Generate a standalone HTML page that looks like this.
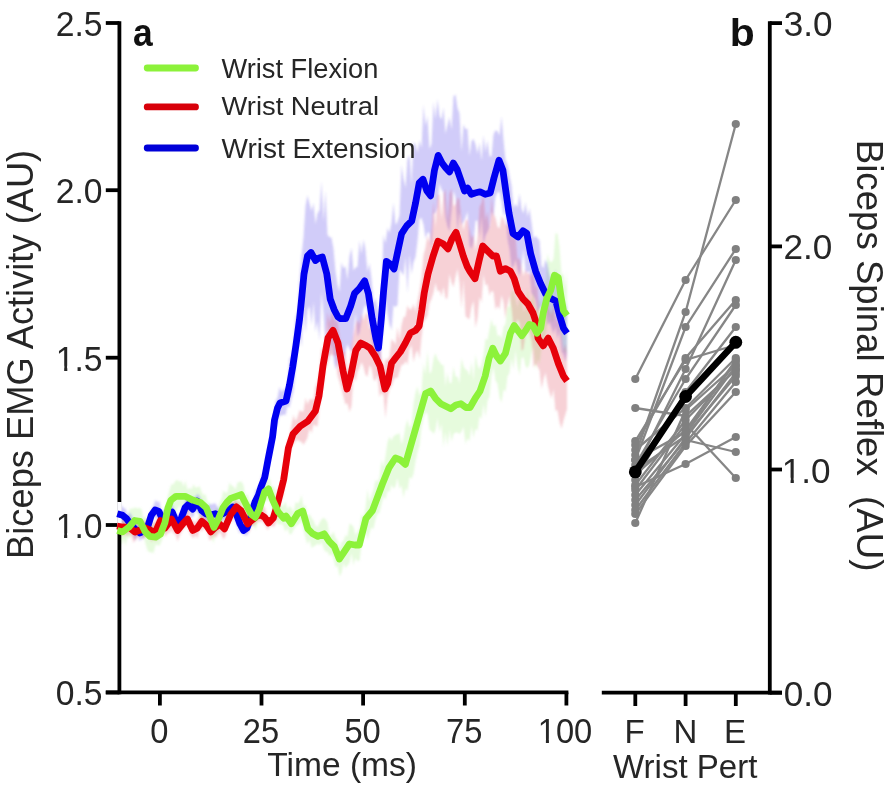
<!DOCTYPE html>
<html><head><meta charset="utf-8"><style>
html,body{margin:0;padding:0;background:#fff;width:886px;height:793px;overflow:hidden}
svg{display:block;filter:blur(0.45px)}
.t{opacity:0.995}
</style></head><body>
<svg width="886" height="793" viewBox="0 0 886 793">
<rect width="886" height="793" fill="#ffffff"/>
<defs><filter id="bl" x="-5%" y="-5%" width="110%" height="110%"><feGaussianBlur stdDeviation="0.9"/></filter></defs>
<g filter="url(#bl)">
<path d="M119.5,521.9 L121.5,521.0 L123.5,517.9 L125.5,523.0 L127.5,518.8 L129.5,509.0 L131.5,508.5 L133.5,508.4 L135.5,507.2 L137.5,508.7 L139.5,507.4 L141.5,509.5 L143.5,518.4 L145.5,516.2 L147.5,519.7 L149.5,521.8 L151.5,525.8 L153.5,525.5 L155.5,521.1 L157.5,528.0 L159.5,517.8 L161.5,518.0 L163.5,514.3 L165.5,509.5 L167.5,497.2 L169.5,489.9 L171.5,483.9 L173.5,484.4 L175.5,480.8 L177.5,479.9 L179.5,482.0 L181.5,480.7 L183.5,486.6 L185.5,480.7 L187.5,489.9 L189.5,487.5 L191.5,489.7 L193.5,484.3 L195.5,487.7 L197.5,487.2 L199.5,486.0 L201.5,491.4 L203.5,495.3 L205.5,493.9 L207.5,502.0 L209.5,502.5 L211.5,513.8 L213.5,516.3 L215.5,508.1 L217.5,509.1 L219.5,502.7 L221.5,498.7 L223.5,490.3 L225.5,493.1 L227.5,492.4 L229.5,482.4 L231.5,485.6 L233.5,486.3 L235.5,489.8 L237.5,482.5 L239.5,481.8 L241.5,481.5 L243.5,485.2 L245.5,496.6 L247.5,493.4 L249.5,501.6 L251.5,501.5 L253.5,505.4 L255.5,506.3 L257.5,503.1 L259.5,493.5 L261.5,489.3 L263.5,485.7 L265.5,475.9 L267.5,481.0 L269.5,477.4 L271.5,486.7 L273.5,486.2 L275.5,490.3 L277.5,500.3 L279.5,497.2 L281.5,506.6 L283.5,505.6 L285.5,501.2 L287.5,509.6 L289.5,505.7 L291.5,508.2 L293.5,512.3 L295.5,502.0 L297.5,503.6 L299.5,501.5 L301.5,495.1 L303.5,507.1 L305.5,504.7 L307.5,516.5 L309.5,513.9 L311.5,517.8 L313.5,520.4 L315.5,525.5 L317.5,527.1 L319.5,522.8 L321.5,519.6 L323.5,517.7 L325.5,519.2 L327.5,522.5 L329.5,535.0 L331.5,535.1 L333.5,531.3 L335.5,537.7 L337.5,540.1 L339.5,548.3 L341.5,542.3 L343.5,540.7 L345.5,535.1 L347.5,536.6 L349.5,523.4 L351.5,524.6 L353.5,527.1 L355.5,535.3 L357.5,531.7 L359.5,528.2 L361.5,514.1 L363.5,517.3 L365.5,508.0 L367.5,489.5 L369.5,502.0 L371.5,495.0 L373.5,490.1 L375.5,479.9 L377.5,481.7 L379.5,477.3 L381.5,459.8 L383.5,467.2 L385.5,455.9 L387.5,441.9 L389.5,436.6 L391.5,441.1 L393.5,436.3 L395.5,434.7 L397.5,434.2 L399.5,432.8 L401.5,444.8 L403.5,437.8 L405.5,426.2 L407.5,419.6 L409.5,427.9 L411.5,424.2 L413.5,403.2 L415.5,392.5 L417.5,386.5 L419.5,395.8 L421.5,391.2 L423.5,363.2 L425.5,374.6 L427.5,351.1 L429.5,373.7 L431.5,371.5 L433.5,358.5 L435.5,353.0 L437.5,359.2 L439.5,361.7 L441.5,364.8 L443.5,364.9 L445.5,386.3 L447.5,372.5 L449.5,383.1 L451.5,383.0 L453.5,366.8 L455.5,376.7 L457.5,376.5 L459.5,383.8 L461.5,358.1 L463.5,366.2 L465.5,369.5 L467.5,370.4 L469.5,376.0 L471.5,361.6 L473.5,381.1 L475.5,354.5 L477.5,365.1 L479.5,369.4 L481.5,364.0 L483.5,355.1 L485.5,338.3 L487.5,340.2 L489.5,328.8 L491.5,318.9 L493.5,327.0 L495.5,324.1 L497.5,336.0 L499.5,334.7 L501.5,338.8 L503.5,326.8 L505.5,323.9 L507.5,306.2 L509.5,307.3 L511.5,291.4 L513.5,290.7 L515.5,298.2 L517.5,307.2 L519.5,297.9 L521.5,295.8 L523.5,311.8 L525.5,309.1 L527.5,287.7 L529.5,301.1 L531.5,300.2 L533.5,290.4 L535.5,311.5 L537.5,308.0 L539.5,297.5 L541.5,306.5 L543.5,283.3 L545.5,281.4 L547.5,253.8 L549.5,260.8 L551.5,262.5 L553.5,259.0 L555.5,233.3 L557.5,233.4 L559.5,247.0 L561.5,273.7 L563.5,274.5 L565.5,288.3 L567.0,270.2 L567.0,352.5 L565.5,352.6 L563.5,351.1 L561.5,336.1 L559.5,324.9 L557.5,304.9 L555.5,295.7 L553.5,321.0 L551.5,322.6 L549.5,312.9 L547.5,324.4 L545.5,336.6 L543.5,341.7 L541.5,348.9 L539.5,364.4 L537.5,358.5 L535.5,369.5 L533.5,345.4 L531.5,353.0 L529.5,364.3 L527.5,368.2 L525.5,366.2 L523.5,356.9 L521.5,358.3 L519.5,375.1 L517.5,365.9 L515.5,350.0 L513.5,369.4 L511.5,358.3 L509.5,372.8 L507.5,376.5 L505.5,392.0 L503.5,388.9 L501.5,402.5 L499.5,397.3 L497.5,383.5 L495.5,380.7 L493.5,366.9 L491.5,375.5 L489.5,396.6 L487.5,400.9 L485.5,416.9 L483.5,403.7 L481.5,419.1 L479.5,415.7 L477.5,430.9 L475.5,428.4 L473.5,438.0 L471.5,425.4 L469.5,441.4 L467.5,438.0 L465.5,444.0 L463.5,426.5 L461.5,431.8 L459.5,434.1 L457.5,432.4 L455.5,432.5 L453.5,433.9 L451.5,441.4 L449.5,429.5 L447.5,446.0 L445.5,431.4 L443.5,446.9 L441.5,423.5 L439.5,432.8 L437.5,417.9 L435.5,430.2 L433.5,433.9 L431.5,430.9 L429.5,429.9 L427.5,413.4 L425.5,412.5 L423.5,417.9 L421.5,427.4 L419.5,445.7 L417.5,452.1 L415.5,461.6 L413.5,474.0 L411.5,478.9 L409.5,476.8 L407.5,491.4 L405.5,487.7 L403.5,497.9 L401.5,485.0 L399.5,489.1 L397.5,477.8 L395.5,486.4 L393.5,488.8 L391.5,484.4 L389.5,492.0 L387.5,491.0 L385.5,499.8 L383.5,496.2 L381.5,504.6 L379.5,512.7 L377.5,513.7 L375.5,519.3 L373.5,529.2 L371.5,527.2 L369.5,532.5 L367.5,540.3 L365.5,531.0 L363.5,539.7 L361.5,545.5 L359.5,560.4 L357.5,561.6 L355.5,557.6 L353.5,565.4 L351.5,552.9 L349.5,563.1 L347.5,565.3 L345.5,568.3 L343.5,563.0 L341.5,573.0 L339.5,576.5 L337.5,565.8 L335.5,567.4 L333.5,558.5 L331.5,553.7 L329.5,556.3 L327.5,551.6 L325.5,552.1 L323.5,548.2 L321.5,542.0 L319.5,545.4 L317.5,543.5 L315.5,545.5 L313.5,546.4 L311.5,548.1 L309.5,539.5 L307.5,544.6 L305.5,538.0 L303.5,530.6 L301.5,519.9 L299.5,523.7 L297.5,525.0 L295.5,526.7 L293.5,530.1 L291.5,533.9 L289.5,534.5 L287.5,527.7 L285.5,532.1 L283.5,526.6 L281.5,523.6 L279.5,524.8 L277.5,524.1 L275.5,514.6 L273.5,513.2 L271.5,507.0 L269.5,499.2 L267.5,501.0 L265.5,500.4 L263.5,504.6 L261.5,516.6 L259.5,515.3 L257.5,523.6 L255.5,529.9 L253.5,526.0 L251.5,524.6 L249.5,522.4 L247.5,524.3 L245.5,510.7 L243.5,514.0 L241.5,505.8 L239.5,506.8 L237.5,503.2 L235.5,509.9 L233.5,510.2 L231.5,504.8 L229.5,511.8 L227.5,511.5 L225.5,518.7 L223.5,519.1 L221.5,524.7 L219.5,529.3 L217.5,532.9 L215.5,535.1 L213.5,543.3 L211.5,536.9 L209.5,524.0 L207.5,521.7 L205.5,513.9 L203.5,512.7 L201.5,520.8 L199.5,519.3 L197.5,511.7 L195.5,508.0 L193.5,507.4 L191.5,514.4 L189.5,506.7 L187.5,512.7 L185.5,513.8 L183.5,503.6 L181.5,509.1 L179.5,505.2 L177.5,509.0 L175.5,513.7 L173.5,506.6 L171.5,517.0 L169.5,520.5 L167.5,526.5 L165.5,532.8 L163.5,537.1 L161.5,541.3 L159.5,546.1 L157.5,545.0 L155.5,544.8 L153.5,553.6 L151.5,551.9 L149.5,552.6 L147.5,550.2 L145.5,543.8 L143.5,535.2 L141.5,537.3 L139.5,528.5 L137.5,535.5 L135.5,536.6 L133.5,530.1 L131.5,535.9 L129.5,538.1 L127.5,537.4 L125.5,545.4 L123.5,538.5 L121.5,544.7 L119.5,543.5Z" fill="rgb(155,240,120)" fill-opacity="0.25"/>
<path d="M119.5,509.0 L121.5,505.1 L123.5,508.1 L125.5,508.6 L127.5,514.9 L129.5,512.2 L131.5,515.1 L133.5,519.8 L135.5,523.2 L137.5,520.1 L139.5,528.2 L141.5,521.0 L143.5,525.3 L145.5,524.8 L147.5,519.8 L149.5,515.0 L151.5,509.0 L153.5,505.7 L155.5,499.7 L157.5,501.9 L159.5,501.2 L161.5,511.7 L163.5,510.1 L165.5,508.4 L167.5,506.3 L169.5,508.1 L171.5,502.2 L173.5,507.1 L175.5,515.4 L177.5,513.0 L179.5,518.2 L181.5,508.1 L183.5,504.9 L185.5,499.3 L187.5,497.2 L189.5,498.1 L191.5,503.3 L193.5,496.3 L195.5,496.9 L197.5,493.6 L199.5,495.9 L201.5,499.5 L203.5,503.9 L205.5,505.1 L207.5,507.9 L209.5,503.6 L211.5,504.6 L213.5,503.4 L215.5,503.5 L217.5,506.4 L219.5,510.0 L221.5,505.5 L223.5,505.2 L225.5,505.1 L227.5,502.6 L229.5,500.8 L231.5,503.3 L233.5,502.9 L235.5,501.5 L237.5,507.0 L239.5,516.4 L241.5,517.5 L243.5,526.0 L245.5,519.2 L247.5,521.5 L249.5,514.5 L251.5,508.2 L253.5,500.5 L255.5,489.7 L257.5,488.6 L259.5,485.8 L261.5,475.5 L263.5,473.1 L265.5,461.2 L267.5,449.3 L269.5,445.3 L271.5,433.6 L273.5,419.9 L275.5,400.9 L277.5,398.1 L279.5,386.9 L281.5,392.3 L283.5,389.3 L285.5,389.0 L287.5,384.1 L289.5,358.3 L291.5,356.5 L293.5,342.5 L295.5,317.6 L297.5,312.8 L299.5,280.0 L301.5,255.9 L303.5,236.9 L305.5,205.9 L307.5,195.6 L309.5,203.6 L311.5,211.0 L313.5,203.1 L315.5,223.9 L317.5,212.9 L319.5,210.6 L321.5,181.5 L323.5,221.1 L325.5,190.9 L327.5,234.9 L329.5,237.0 L331.5,237.8 L333.5,248.8 L335.5,270.9 L337.5,284.4 L339.5,292.1 L341.5,262.6 L343.5,268.6 L345.5,266.0 L347.5,279.9 L349.5,256.2 L351.5,247.9 L353.5,270.5 L355.5,267.5 L357.5,266.8 L359.5,240.4 L361.5,254.3 L363.5,239.6 L365.5,249.7 L367.5,271.8 L369.5,263.3 L371.5,278.7 L373.5,304.1 L375.5,298.2 L377.5,307.6 L379.5,315.2 L381.5,295.0 L383.5,235.1 L385.5,243.3 L387.5,227.8 L389.5,233.1 L391.5,223.0 L393.5,202.7 L395.5,224.7 L397.5,222.0 L399.5,215.3 L401.5,165.2 L403.5,178.5 L405.5,187.7 L407.5,159.3 L409.5,154.9 L411.5,185.1 L413.5,142.1 L415.5,144.9 L417.5,152.7 L419.5,140.3 L421.5,148.3 L423.5,105.1 L425.5,126.1 L427.5,116.0 L429.5,149.0 L431.5,143.9 L433.5,102.0 L435.5,119.3 L437.5,99.3 L439.5,115.6 L441.5,119.7 L443.5,107.4 L445.5,133.6 L447.5,125.1 L449.5,117.1 L451.5,130.0 L453.5,96.6 L455.5,94.5 L457.5,108.0 L459.5,113.4 L461.5,151.4 L463.5,124.4 L465.5,129.2 L467.5,128.4 L469.5,155.9 L471.5,140.9 L473.5,139.0 L475.5,144.2 L477.5,153.5 L479.5,142.7 L481.5,160.6 L483.5,135.5 L485.5,151.7 L487.5,140.3 L489.5,156.5 L491.5,156.3 L493.5,134.5 L495.5,130.2 L497.5,131.2 L499.5,135.6 L501.5,116.5 L503.5,139.7 L505.5,160.0 L507.5,165.1 L509.5,175.4 L511.5,185.5 L513.5,208.2 L515.5,203.4 L517.5,207.8 L519.5,193.8 L521.5,208.8 L523.5,213.5 L525.5,202.6 L527.5,216.7 L529.5,208.4 L531.5,222.6 L533.5,238.2 L535.5,236.0 L537.5,238.1 L539.5,240.6 L541.5,265.4 L543.5,268.5 L545.5,259.2 L547.5,263.8 L549.5,274.4 L551.5,280.5 L553.5,284.7 L555.5,268.7 L557.5,288.0 L559.5,281.1 L561.5,292.5 L563.5,302.0 L565.5,309.8 L567.0,301.9 L567.0,352.9 L565.5,361.8 L563.5,354.8 L561.5,351.6 L559.5,330.7 L557.5,339.4 L555.5,327.1 L553.5,334.0 L551.5,327.9 L549.5,322.2 L547.5,325.1 L545.5,308.4 L543.5,316.3 L541.5,305.3 L539.5,308.6 L537.5,311.9 L535.5,300.0 L533.5,296.0 L531.5,293.1 L529.5,271.0 L527.5,272.4 L525.5,271.2 L523.5,249.1 L521.5,266.3 L519.5,276.8 L517.5,269.7 L515.5,259.6 L513.5,267.1 L511.5,267.6 L509.5,249.3 L507.5,239.4 L505.5,209.7 L503.5,216.7 L501.5,201.8 L499.5,192.1 L497.5,192.2 L495.5,196.8 L493.5,216.9 L491.5,210.7 L489.5,227.4 L487.5,232.0 L485.5,235.7 L483.5,244.6 L481.5,216.8 L479.5,238.0 L477.5,220.1 L475.5,221.3 L473.5,242.4 L471.5,248.9 L469.5,245.9 L467.5,211.6 L465.5,217.9 L463.5,221.9 L461.5,224.8 L459.5,212.0 L457.5,232.6 L455.5,197.5 L453.5,190.7 L451.5,211.9 L449.5,231.5 L447.5,226.6 L445.5,218.1 L443.5,192.6 L441.5,189.7 L439.5,183.6 L437.5,207.1 L435.5,212.9 L433.5,213.5 L431.5,248.9 L429.5,232.4 L427.5,232.5 L425.5,238.4 L423.5,224.6 L421.5,217.9 L419.5,218.7 L417.5,241.0 L415.5,257.3 L413.5,261.9 L411.5,274.0 L409.5,254.3 L407.5,292.9 L405.5,256.4 L403.5,275.6 L401.5,272.2 L399.5,269.4 L397.5,305.1 L395.5,306.9 L393.5,305.4 L391.5,330.1 L389.5,324.5 L387.5,314.0 L385.5,299.3 L383.5,327.8 L381.5,344.6 L379.5,383.5 L377.5,363.5 L375.5,351.1 L373.5,354.3 L371.5,333.8 L369.5,325.0 L367.5,310.4 L365.5,304.5 L363.5,309.1 L361.5,321.0 L359.5,332.6 L357.5,336.4 L355.5,312.9 L353.5,333.9 L351.5,351.9 L349.5,349.0 L347.5,344.2 L345.5,351.7 L343.5,360.1 L341.5,347.2 L339.5,345.3 L337.5,363.4 L335.5,369.6 L333.5,358.4 L331.5,343.5 L329.5,361.8 L327.5,321.1 L325.5,345.5 L323.5,313.9 L321.5,292.4 L319.5,340.6 L317.5,321.1 L315.5,331.8 L313.5,301.9 L311.5,325.1 L309.5,306.0 L307.5,309.9 L305.5,332.9 L303.5,307.4 L301.5,346.8 L299.5,335.5 L297.5,348.2 L295.5,369.8 L293.5,391.1 L291.5,398.8 L289.5,407.5 L287.5,406.2 L285.5,415.2 L283.5,414.5 L281.5,415.7 L279.5,415.6 L277.5,424.1 L275.5,427.5 L273.5,441.6 L271.5,455.0 L269.5,458.3 L267.5,475.8 L265.5,480.8 L263.5,494.0 L261.5,492.6 L259.5,500.1 L257.5,505.8 L255.5,509.4 L253.5,513.5 L251.5,522.4 L249.5,526.2 L247.5,535.6 L245.5,535.3 L243.5,535.0 L241.5,531.8 L239.5,533.1 L237.5,527.4 L235.5,522.3 L233.5,517.2 L231.5,514.0 L229.5,517.3 L227.5,519.8 L225.5,519.0 L223.5,521.1 L221.5,519.9 L219.5,525.5 L217.5,522.3 L215.5,521.9 L213.5,523.9 L211.5,524.9 L209.5,519.3 L207.5,522.6 L205.5,521.3 L203.5,523.3 L201.5,516.1 L199.5,514.1 L197.5,513.1 L195.5,509.7 L193.5,516.4 L191.5,517.5 L189.5,510.6 L187.5,512.6 L185.5,517.3 L183.5,519.5 L181.5,526.8 L179.5,532.2 L177.5,530.5 L175.5,526.2 L173.5,523.8 L171.5,523.4 L169.5,523.3 L167.5,525.9 L165.5,527.0 L163.5,529.2 L161.5,523.8 L159.5,523.4 L157.5,516.7 L155.5,518.6 L153.5,516.8 L151.5,522.7 L149.5,527.1 L147.5,535.4 L145.5,535.5 L143.5,538.7 L141.5,539.3 L139.5,541.0 L137.5,535.6 L135.5,540.5 L133.5,537.0 L131.5,529.4 L129.5,530.1 L127.5,524.5 L125.5,527.7 L123.5,523.7 L121.5,521.2 L119.5,524.9Z" fill="rgb(95,80,235)" fill-opacity="0.29"/>
<path d="M119.5,515.2 L121.5,522.0 L123.5,516.7 L125.5,518.1 L127.5,518.8 L129.5,519.3 L131.5,521.7 L133.5,521.2 L135.5,520.6 L137.5,523.4 L139.5,525.5 L141.5,521.7 L143.5,521.5 L145.5,520.0 L147.5,522.9 L149.5,523.1 L151.5,522.8 L153.5,522.8 L155.5,521.0 L157.5,517.5 L159.5,512.7 L161.5,515.3 L163.5,514.2 L165.5,517.5 L167.5,516.9 L169.5,513.9 L171.5,511.0 L173.5,515.8 L175.5,515.6 L177.5,521.7 L179.5,518.4 L181.5,519.5 L183.5,513.5 L185.5,510.0 L187.5,508.3 L189.5,512.2 L191.5,519.8 L193.5,520.9 L195.5,522.3 L197.5,519.6 L199.5,515.8 L201.5,511.4 L203.5,511.8 L205.5,514.7 L207.5,517.8 L209.5,523.9 L211.5,526.1 L213.5,518.7 L215.5,521.4 L217.5,518.5 L219.5,519.9 L221.5,520.3 L223.5,522.9 L225.5,522.0 L227.5,517.4 L229.5,507.0 L231.5,507.7 L233.5,503.6 L235.5,496.6 L237.5,503.1 L239.5,500.6 L241.5,506.3 L243.5,510.9 L245.5,509.6 L247.5,512.6 L249.5,511.7 L251.5,512.6 L253.5,509.6 L255.5,512.1 L257.5,505.2 L259.5,506.8 L261.5,507.2 L263.5,505.2 L265.5,509.7 L267.5,517.0 L269.5,516.6 L271.5,514.9 L273.5,511.3 L275.5,500.5 L277.5,488.7 L279.5,487.2 L281.5,478.5 L283.5,465.4 L285.5,450.7 L287.5,440.6 L289.5,436.5 L291.5,424.7 L293.5,414.9 L295.5,421.2 L297.5,416.9 L299.5,410.3 L301.5,411.5 L303.5,411.4 L305.5,397.9 L307.5,404.6 L309.5,399.4 L311.5,399.1 L313.5,400.1 L315.5,386.1 L317.5,382.3 L319.5,370.3 L321.5,347.8 L323.5,351.1 L325.5,338.1 L327.5,312.1 L329.5,323.0 L331.5,311.5 L333.5,314.3 L335.5,321.9 L337.5,320.1 L339.5,335.9 L341.5,344.4 L343.5,350.7 L345.5,351.9 L347.5,371.1 L349.5,365.0 L351.5,344.6 L353.5,333.8 L355.5,324.7 L357.5,319.5 L359.5,324.4 L361.5,313.7 L363.5,320.5 L365.5,312.8 L367.5,314.7 L369.5,329.3 L371.5,328.1 L373.5,332.5 L375.5,326.1 L377.5,332.3 L379.5,345.7 L381.5,357.9 L383.5,368.9 L385.5,358.9 L387.5,359.8 L389.5,356.7 L391.5,339.2 L393.5,341.2 L395.5,344.7 L397.5,327.1 L399.5,340.2 L401.5,325.3 L403.5,317.3 L405.5,316.5 L407.5,305.6 L409.5,309.4 L411.5,309.2 L413.5,303.9 L415.5,311.8 L417.5,301.5 L419.5,291.1 L421.5,277.7 L423.5,255.2 L425.5,247.7 L427.5,235.4 L429.5,242.6 L431.5,228.8 L433.5,201.3 L435.5,227.0 L437.5,194.8 L439.5,194.7 L441.5,219.2 L443.5,193.5 L445.5,188.9 L447.5,221.4 L449.5,192.9 L451.5,188.7 L453.5,206.0 L455.5,204.9 L457.5,197.6 L459.5,198.9 L461.5,219.2 L463.5,230.8 L465.5,220.5 L467.5,219.0 L469.5,229.2 L471.5,238.0 L473.5,234.7 L475.5,250.6 L477.5,238.3 L479.5,207.0 L481.5,203.1 L483.5,192.2 L485.5,220.3 L487.5,211.3 L489.5,230.0 L491.5,197.1 L493.5,214.2 L495.5,217.8 L497.5,226.8 L499.5,228.6 L501.5,216.0 L503.5,218.6 L505.5,224.4 L507.5,225.6 L509.5,220.5 L511.5,230.7 L513.5,238.5 L515.5,235.6 L517.5,259.0 L519.5,258.2 L521.5,267.5 L523.5,275.9 L525.5,269.6 L527.5,273.9 L529.5,273.0 L531.5,277.1 L533.5,267.1 L535.5,287.3 L537.5,285.6 L539.5,318.0 L541.5,318.1 L543.5,314.3 L545.5,298.0 L547.5,294.5 L549.5,308.9 L551.5,315.1 L553.5,301.9 L555.5,315.9 L557.5,321.0 L559.5,323.5 L561.5,332.5 L563.5,350.9 L565.5,343.8 L567.0,353.8 L567.0,409.3 L565.5,414.1 L563.5,420.5 L561.5,428.6 L559.5,422.0 L557.5,410.0 L555.5,411.1 L553.5,389.0 L551.5,398.4 L549.5,392.4 L547.5,383.8 L545.5,372.4 L543.5,379.6 L541.5,388.8 L539.5,370.2 L537.5,366.8 L535.5,363.9 L533.5,367.4 L531.5,341.3 L529.5,333.3 L527.5,327.1 L525.5,335.1 L523.5,348.9 L521.5,351.1 L519.5,322.9 L517.5,319.1 L515.5,326.5 L513.5,328.8 L511.5,308.8 L509.5,295.7 L507.5,305.4 L505.5,318.8 L503.5,302.3 L501.5,295.3 L499.5,309.4 L497.5,305.6 L495.5,309.7 L493.5,292.2 L491.5,290.4 L489.5,295.6 L487.5,284.1 L485.5,285.4 L483.5,274.4 L481.5,302.8 L479.5,296.8 L477.5,318.5 L475.5,327.6 L473.5,300.5 L471.5,306.8 L469.5,319.1 L467.5,318.3 L465.5,315.9 L463.5,279.4 L461.5,308.1 L459.5,282.8 L457.5,268.5 L455.5,277.3 L453.5,287.0 L451.5,282.6 L449.5,273.7 L447.5,298.4 L445.5,298.4 L443.5,286.4 L441.5,296.4 L439.5,290.3 L437.5,291.6 L435.5,282.8 L433.5,292.8 L431.5,299.0 L429.5,303.3 L427.5,315.9 L425.5,319.2 L423.5,321.4 L421.5,337.4 L419.5,358.8 L417.5,350.1 L415.5,354.1 L413.5,362.0 L411.5,345.2 L409.5,349.3 L407.5,364.7 L405.5,361.0 L403.5,364.9 L401.5,364.4 L399.5,371.4 L397.5,378.3 L395.5,377.6 L393.5,380.4 L391.5,386.2 L389.5,389.2 L387.5,397.6 L385.5,418.1 L383.5,395.4 L381.5,392.9 L379.5,396.8 L377.5,375.0 L375.5,380.9 L373.5,379.6 L371.5,368.2 L369.5,365.2 L367.5,376.4 L365.5,374.7 L363.5,367.1 L361.5,361.9 L359.5,367.6 L357.5,371.6 L355.5,381.8 L353.5,375.6 L351.5,406.0 L349.5,412.0 L347.5,403.3 L345.5,404.4 L343.5,396.9 L341.5,388.9 L339.5,381.8 L337.5,375.3 L335.5,355.5 L333.5,356.1 L331.5,354.3 L329.5,356.0 L327.5,364.5 L325.5,368.2 L323.5,385.4 L321.5,393.5 L319.5,406.7 L317.5,426.5 L315.5,425.7 L313.5,424.3 L311.5,433.2 L309.5,428.6 L307.5,437.4 L305.5,441.5 L303.5,444.8 L301.5,442.1 L299.5,441.1 L297.5,439.7 L295.5,441.2 L293.5,443.8 L291.5,447.1 L289.5,452.1 L287.5,466.8 L285.5,476.9 L283.5,495.0 L281.5,500.2 L279.5,506.2 L277.5,518.5 L275.5,524.4 L273.5,527.3 L271.5,525.8 L269.5,526.8 L267.5,529.9 L265.5,525.9 L263.5,522.8 L261.5,520.7 L259.5,522.6 L257.5,521.2 L255.5,524.8 L253.5,525.5 L251.5,526.5 L249.5,531.7 L247.5,533.3 L245.5,529.2 L243.5,523.1 L241.5,518.3 L239.5,519.2 L237.5,514.7 L235.5,513.6 L233.5,515.5 L231.5,522.8 L229.5,522.8 L227.5,528.2 L225.5,536.2 L223.5,539.2 L221.5,535.1 L219.5,531.6 L217.5,535.5 L215.5,538.1 L213.5,535.4 L211.5,539.4 L209.5,540.6 L207.5,533.3 L205.5,529.2 L203.5,528.5 L201.5,531.4 L199.5,529.6 L197.5,538.8 L195.5,534.9 L193.5,538.6 L191.5,535.9 L189.5,533.0 L187.5,525.8 L185.5,527.2 L183.5,528.5 L181.5,532.2 L179.5,535.9 L177.5,541.2 L175.5,534.2 L173.5,533.5 L171.5,529.4 L169.5,532.9 L167.5,532.9 L165.5,536.9 L163.5,531.1 L161.5,533.8 L159.5,532.7 L157.5,538.1 L155.5,542.0 L153.5,537.8 L151.5,542.5 L149.5,535.2 L147.5,533.6 L145.5,536.6 L143.5,539.4 L141.5,536.1 L139.5,534.8 L137.5,537.3 L135.5,540.1 L133.5,542.4 L131.5,536.4 L129.5,533.5 L127.5,536.4 L125.5,533.9 L123.5,536.8 L121.5,531.8 L119.5,537.7Z" fill="rgb(225,70,90)" fill-opacity="0.25"/>
</g>
<g stroke="#000" stroke-width="3.8" fill="none">
<path d="M119.4,21.2 V694.3"/>
<path d="M105.8,692.4 H568.4"/>
<path d="M105.8,23 H119.4"/>
<path d="M105.8,190.2 H119.4"/>
<path d="M105.8,357.7 H119.4"/>
<path d="M105.8,525 H119.4"/>
<path d="M105.8,692.5 H119.4"/>
<path d="M159.9,692.4 V705.5"/>
<path d="M261.5,692.4 V705.5"/>
<path d="M363.1,692.4 V705.5"/>
<path d="M464.8,692.4 V705.5"/>
<path d="M566.4,692.4 V705.5"/>
<path d="M769.8,21.2 V694.5"/>
<path d="M601.8,692.6 H782"/>
<path d="M769.8,23.1 H782"/>
<path d="M769.8,246.4 H782"/>
<path d="M769.8,469.5 H782"/>
<path d="M769.8,692.7 H782"/>
<path d="M635.3,692.6 V706"/>
<path d="M685.6,692.6 V706"/>
<path d="M735.8,692.6 V706"/>
</g>
<rect x="117.2" y="502" width="4.6" height="32" fill="#fbfbff"/>
<path d="M117.3,513.7 L122.6,515.3 L126.3,518.3 L129.0,522.0 L134.0,528.0 L139.8,533.0 L144.0,531.0 L147.5,527.4 L151.3,515.3 L155.1,510.0 L158.9,511.5 L161.5,517.0 L164.5,521.0 L168.0,516.0 L172.3,512.2 L176.0,521.3 L179.1,525.1 L182.0,516.0 L185.1,507.7 L188.2,504.7 L192.7,509.2 L197.2,501.0 L201.8,510.7 L205.6,513.7 L210.0,515.0 L215.4,513.7 L218.4,515.3 L224.0,513.0 L229.0,510.0 L232.6,507.0 L236.0,513.0 L240.0,524.0 L243.5,530.5 L247.0,528.0 L250.0,520.0 L252.5,510.0 L255.0,502.0 L258.5,495.0 L261.0,487.0 L264.7,477.6 L268.0,460.0 L272.6,436.7 L274.5,420.0 L277.5,408.0 L280.0,403.0 L286.0,401.0 L289.5,385.0 L292.7,367.0 L296.0,345.0 L299.5,319.5 L302.0,295.0 L304.0,274.0 L307.5,256.0 L311.0,252.5 L315.5,260.5 L319.0,258.0 L322.3,257.0 L326.8,274.0 L330.2,299.0 L334.3,310.0 L338.0,317.0 L340.6,318.7 L345.7,318.7 L350.7,306.0 L354.5,293.4 L359.5,288.4 L364.6,280.8 L368.4,293.4 L372.2,318.7 L376.0,338.9 L378.5,348.0 L381.4,317.9 L383.5,292.0 L386.4,261.4 L390.2,264.0 L394.0,269.0 L397.8,251.3 L401.6,233.6 L406.6,226.0 L411.7,221.0 L415.5,203.3 L419.2,183.0 L423.0,179.3 L426.8,190.7 L430.6,195.8 L434.4,170.5 L438.2,155.4 L442.0,163.0 L445.8,168.0 L449.5,171.8 L453.3,163.0 L457.0,169.2 L461.0,180.6 L464.5,191.0 L467.6,188.0 L471.3,194.3 L475.0,193.0 L480.0,191.8 L485.2,194.3 L490.2,193.0 L494.0,177.9 L499.0,160.2 L502.9,170.3 L505.4,188.0 L509.0,213.2 L513.0,233.4 L518.0,237.0 L523.0,230.8 L526.8,233.4 L530.6,253.5 L535.6,271.2 L540.7,283.8 L545.7,293.9 L550.0,298.0 L555.8,301.0 L559.6,315.5 L563.4,328.1 L567.0,333.2" fill="none" stroke="#0000f0" stroke-width="6.8" stroke-linejoin="round" stroke-linecap="butt"/>
<path d="M117.0,526.0 L122.6,527.0 L127.0,527.5 L130.0,528.0 L135.0,532.0 L140.0,530.0 L145.0,528.0 L150.0,530.0 L155.0,533.0 L160.4,520.5 L165.0,528.0 L168.0,524.0 L171.5,519.0 L177.6,530.4 L183.6,522.8 L187.4,519.0 L192.7,530.4 L197.2,528.1 L201.8,521.3 L206.3,525.1 L210.8,531.9 L215.4,527.4 L219.9,524.3 L224.5,528.9 L230.7,514.5 L236.4,506.9 L241.1,510.7 L247.7,523.9 L252.0,520.0 L257.0,516.0 L261.0,515.0 L264.7,517.3 L268.5,523.0 L273.2,518.2 L277.0,506.0 L279.9,494.6 L283.7,479.5 L288.4,448.0 L293.0,434.0 L300.2,426.3 L307.8,421.2 L315.4,411.0 L319.0,396.0 L323.0,365.7 L328.0,337.9 L333.0,330.3 L338.0,343.0 L343.0,370.7 L347.0,389.0 L350.7,375.8 L355.8,350.5 L360.8,343.0 L365.9,345.5 L370.0,348.2 L375.0,355.8 L380.0,365.9 L385.0,389.0 L387.7,383.5 L391.5,363.3 L395.3,358.3 L400.3,352.0 L405.4,343.0 L410.4,333.0 L415.5,330.5 L419.2,326.0 L421.8,310.3 L424.3,292.6 L428.0,274.0 L433.0,256.4 L438.0,241.2 L443.0,243.7 L448.0,248.8 L452.0,238.7 L456.0,232.4 L459.6,243.7 L463.4,256.4 L467.2,266.5 L470.0,271.5 L475.0,278.7 L479.0,261.0 L482.7,246.0 L487.7,251.0 L492.8,256.0 L496.5,256.0 L500.3,271.2 L505.4,268.6 L510.4,271.2 L514.2,278.7 L518.0,291.3 L523.0,298.9 L528.0,304.0 L533.0,313.0 L536.0,322.0 L538.0,338.2 L543.2,345.8 L548.2,338.2 L553.3,348.3 L558.3,363.4 L563.4,376.0 L567.0,381.0" fill="none" stroke="#e6000a" stroke-width="6.8" stroke-linejoin="round" stroke-linecap="butt"/>
<path d="M117.3,530.4 L122.6,531.9 L128.6,527.4 L134.7,520.5 L140.0,521.3 L145.3,531.9 L149.8,536.4 L155.8,537.2 L160.4,534.2 L164.9,522.8 L168.0,507.7 L171.0,500.1 L176.0,496.3 L185.1,496.3 L192.7,500.1 L200.3,502.4 L206.3,507.7 L210.8,519.0 L213.9,527.4 L218.4,519.0 L223.0,507.7 L227.5,501.6 L230.7,498.4 L241.1,494.6 L246.8,506.0 L251.5,514.5 L255.3,517.3 L259.1,509.7 L264.7,491.8 L268.5,488.9 L273.2,501.2 L278.0,511.6 L283.7,518.2 L286.0,516.0 L291.4,523.7 L297.7,513.6 L302.7,511.0 L307.8,528.8 L312.8,533.8 L317.9,536.4 L324.2,533.8 L329.2,541.4 L334.3,546.5 L339.3,559.0 L344.4,551.5 L349.4,544.0 L355.0,545.0 L359.3,545.0 L362.6,531.8 L365.9,518.7 L372.5,510.5 L377.4,497.4 L382.3,484.3 L388.9,467.9 L395.4,458.0 L400.0,459.7 L405.4,464.3 L410.4,446.7 L415.5,429.0 L420.5,411.3 L425.6,393.6 L430.6,391.0 L435.7,398.7 L440.7,403.7 L445.8,406.3 L450.8,408.8 L455.9,405.0 L460.9,403.7 L466.0,407.5 L470.0,407.5 L475.0,398.7 L480.0,391.2 L485.2,376.0 L489.0,358.4 L492.8,348.3 L496.5,355.9 L500.3,361.0 L505.4,353.4 L510.4,333.2 L514.2,325.6 L518.0,330.7 L521.8,335.7 L525.5,330.7 L529.3,324.4 L533.0,325.6 L536.9,333.2 L540.7,328.1 L543.2,313.0 L547.0,297.9 L550.7,290.3 L554.5,275.2 L558.3,277.7 L560.8,295.4 L563.4,310.5 L567.0,315.5" fill="none" stroke="#8cf23a" stroke-width="6.8" stroke-linejoin="round" stroke-linecap="butt"/>
<path d="M147.2,68 H195.5" stroke="#8cf23a" stroke-width="6.8" stroke-linecap="round"/>
<path d="M147.2,106.9 H195.5" stroke="#d8000a" stroke-width="6.8" stroke-linecap="round"/>
<path d="M147.2,148 H195.5" stroke="#0000d8" stroke-width="6.8" stroke-linecap="round"/>
<g stroke="#868686" stroke-width="2.3" fill="none">
<path d="M635.3,379 L685.6,280 L735.8,200"/>
<path d="M635.3,455 L685.6,312 L735.8,124"/>
<path d="M635.3,460 L685.6,327 L735.8,249"/>
<path d="M635.3,470 L685.6,369 L735.8,260"/>
<path d="M635.3,445 L685.6,358 L735.8,300"/>
<path d="M635.3,441 L685.6,360 L735.8,345"/>
<path d="M635.3,465 L685.6,379 L735.8,305"/>
<path d="M635.3,480 L685.6,392 L735.8,327"/>
<path d="M635.3,408 L685.6,416 L735.8,370"/>
<path d="M635.3,490 L685.6,424 L735.8,478"/>
<path d="M635.3,487 L685.6,464 L735.8,437"/>
<path d="M635.3,500 L685.6,440 L735.8,452"/>
<path d="M635.3,450 L685.6,408 L735.8,358"/>
<path d="M635.3,475 L685.6,430 L735.8,362"/>
<path d="M635.3,495 L685.6,434 L735.8,366"/>
<path d="M635.3,505 L685.6,438 L735.8,373"/>
<path d="M635.3,510 L685.6,443 L735.8,382"/>
<path d="M635.3,514 L685.6,446 L735.8,392"/>
<path d="M635.3,523 L685.6,410 L735.8,365"/>
<path d="M635.3,485 L685.6,420 L735.8,369"/>
<path d="M635.3,470 L685.6,436 L735.8,376"/>
<path d="M635.3,460 L685.6,432 L735.8,360"/>
</g><g fill="#808080">
<circle cx="635.3" cy="379" r="4.1"/>
<circle cx="685.6" cy="280" r="4.1"/>
<circle cx="735.8" cy="200" r="4.1"/>
<circle cx="635.3" cy="455" r="4.1"/>
<circle cx="685.6" cy="312" r="4.1"/>
<circle cx="735.8" cy="124" r="4.1"/>
<circle cx="635.3" cy="460" r="4.1"/>
<circle cx="685.6" cy="327" r="4.1"/>
<circle cx="735.8" cy="249" r="4.1"/>
<circle cx="635.3" cy="470" r="4.1"/>
<circle cx="685.6" cy="369" r="4.1"/>
<circle cx="735.8" cy="260" r="4.1"/>
<circle cx="635.3" cy="445" r="4.1"/>
<circle cx="685.6" cy="358" r="4.1"/>
<circle cx="735.8" cy="300" r="4.1"/>
<circle cx="635.3" cy="441" r="4.1"/>
<circle cx="685.6" cy="360" r="4.1"/>
<circle cx="735.8" cy="345" r="4.1"/>
<circle cx="635.3" cy="465" r="4.1"/>
<circle cx="685.6" cy="379" r="4.1"/>
<circle cx="735.8" cy="305" r="4.1"/>
<circle cx="635.3" cy="480" r="4.1"/>
<circle cx="685.6" cy="392" r="4.1"/>
<circle cx="735.8" cy="327" r="4.1"/>
<circle cx="635.3" cy="408" r="4.1"/>
<circle cx="685.6" cy="416" r="4.1"/>
<circle cx="735.8" cy="370" r="4.1"/>
<circle cx="635.3" cy="490" r="4.1"/>
<circle cx="685.6" cy="424" r="4.1"/>
<circle cx="735.8" cy="478" r="4.1"/>
<circle cx="635.3" cy="487" r="4.1"/>
<circle cx="685.6" cy="464" r="4.1"/>
<circle cx="735.8" cy="437" r="4.1"/>
<circle cx="635.3" cy="500" r="4.1"/>
<circle cx="685.6" cy="440" r="4.1"/>
<circle cx="735.8" cy="452" r="4.1"/>
<circle cx="635.3" cy="450" r="4.1"/>
<circle cx="685.6" cy="408" r="4.1"/>
<circle cx="735.8" cy="358" r="4.1"/>
<circle cx="635.3" cy="475" r="4.1"/>
<circle cx="685.6" cy="430" r="4.1"/>
<circle cx="735.8" cy="362" r="4.1"/>
<circle cx="635.3" cy="495" r="4.1"/>
<circle cx="685.6" cy="434" r="4.1"/>
<circle cx="735.8" cy="366" r="4.1"/>
<circle cx="635.3" cy="505" r="4.1"/>
<circle cx="685.6" cy="438" r="4.1"/>
<circle cx="735.8" cy="373" r="4.1"/>
<circle cx="635.3" cy="510" r="4.1"/>
<circle cx="685.6" cy="443" r="4.1"/>
<circle cx="735.8" cy="382" r="4.1"/>
<circle cx="635.3" cy="514" r="4.1"/>
<circle cx="685.6" cy="446" r="4.1"/>
<circle cx="735.8" cy="392" r="4.1"/>
<circle cx="635.3" cy="523" r="4.1"/>
<circle cx="685.6" cy="410" r="4.1"/>
<circle cx="735.8" cy="365" r="4.1"/>
<circle cx="635.3" cy="485" r="4.1"/>
<circle cx="685.6" cy="420" r="4.1"/>
<circle cx="735.8" cy="369" r="4.1"/>
<circle cx="635.3" cy="470" r="4.1"/>
<circle cx="685.6" cy="436" r="4.1"/>
<circle cx="735.8" cy="376" r="4.1"/>
<circle cx="635.3" cy="460" r="4.1"/>
<circle cx="685.6" cy="432" r="4.1"/>
<circle cx="735.8" cy="360" r="4.1"/>
</g>
<path d="M635.3,471.9 L685.6,396.5 L735.8,342.2" stroke="#000" stroke-width="6.5" fill="none" stroke-linejoin="round"/>
<circle cx="635.3" cy="471.9" r="6.4" fill="#000"/>
<circle cx="685.6" cy="396.5" r="6.4" fill="#000"/>
<circle cx="735.8" cy="342.2" r="6.4" fill="#000"/>
<g class="t" transform="translate(55.79,35.85) scale(1.0200,1.0650)"><text x="0" y="0" font-family="Liberation Sans, sans-serif" font-size="33" font-weight="normal" fill="#262626" style="white-space:pre">2.5</text></g>
<g class="t" transform="translate(55.68,203.05) scale(1.0200,1.0650)"><text x="0" y="0" font-family="Liberation Sans, sans-serif" font-size="33" font-weight="normal" fill="#262626" style="white-space:pre">2.0</text></g>
<g class="t" transform="translate(55.79,370.55) scale(1.0200,1.0650)"><text x="0" y="0" font-family="Liberation Sans, sans-serif" font-size="33" font-weight="normal" fill="#262626" style="white-space:pre">1.5</text><rect x="1.29" y="-4.51" width="6.93" height="6.45" fill="#fff"/><rect x="11.30" y="-4.51" width="6.75" height="6.45" fill="#fff"/></g>
<g class="t" transform="translate(55.68,537.85) scale(1.0200,1.0650)"><text x="0" y="0" font-family="Liberation Sans, sans-serif" font-size="33" font-weight="normal" fill="#262626" style="white-space:pre">1.0</text><rect x="1.29" y="-4.51" width="6.93" height="6.45" fill="#fff"/><rect x="11.30" y="-4.51" width="6.75" height="6.45" fill="#fff"/></g>
<g class="t" transform="translate(55.79,705.35) scale(1.0200,1.0650)"><text x="0" y="0" font-family="Liberation Sans, sans-serif" font-size="33" font-weight="normal" fill="#262626" style="white-space:pre">0.5</text></g>
<g class="t" transform="translate(783.67,36.10) scale(1.0650,1.0650)"><text x="0" y="0" font-family="Liberation Sans, sans-serif" font-size="33" font-weight="normal" fill="#262626" style="white-space:pre">3.0</text></g>
<g class="t" transform="translate(783.41,259.40) scale(1.0650,1.0650)"><text x="0" y="0" font-family="Liberation Sans, sans-serif" font-size="33" font-weight="normal" fill="#262626" style="white-space:pre">2.0</text></g>
<g class="t" transform="translate(781.81,482.50) scale(1.0650,1.0650)"><text x="0" y="0" font-family="Liberation Sans, sans-serif" font-size="33" font-weight="normal" fill="#262626" style="white-space:pre">1.0</text><rect x="1.29" y="-4.51" width="6.93" height="6.45" fill="#fff"/><rect x="11.30" y="-4.51" width="6.75" height="6.45" fill="#fff"/></g>
<g class="t" transform="translate(783.79,705.70) scale(1.0650,1.0650)"><text x="0" y="0" font-family="Liberation Sans, sans-serif" font-size="33" font-weight="normal" fill="#262626" style="white-space:pre">0.0</text></g>
<g class="t" transform="translate(150.36,743.26) scale(0.9900,1.0400)"><text x="0" y="0" font-family="Liberation Sans, sans-serif" font-size="33" font-weight="normal" fill="#262626" style="white-space:pre">0</text></g>
<g class="t" transform="translate(242.79,743.26) scale(0.9900,1.0400)"><text x="0" y="0" font-family="Liberation Sans, sans-serif" font-size="33" font-weight="normal" fill="#262626" style="white-space:pre">25</text></g>
<g class="t" transform="translate(344.38,743.26) scale(0.9900,1.0400)"><text x="0" y="0" font-family="Liberation Sans, sans-serif" font-size="33" font-weight="normal" fill="#262626" style="white-space:pre">50</text></g>
<g class="t" transform="translate(446.07,743.26) scale(0.9900,1.0400)"><text x="0" y="0" font-family="Liberation Sans, sans-serif" font-size="33" font-weight="normal" fill="#262626" style="white-space:pre">75</text></g>
<g class="t" transform="translate(537.75,743.26) scale(0.9900,1.0400)"><text x="0" y="0" font-family="Liberation Sans, sans-serif" font-size="33" font-weight="normal" fill="#262626" style="white-space:pre">100</text><rect x="1.29" y="-4.51" width="6.93" height="6.45" fill="#fff"/><rect x="11.30" y="-4.51" width="6.75" height="6.45" fill="#fff"/></g>
<g class="t" transform="translate(624.46,743.14) scale(1.0000,1.0300)"><text x="0" y="0" font-family="Liberation Sans, sans-serif" font-size="33" font-weight="normal" fill="#262626" style="white-space:pre">F</text></g>
<g class="t" transform="translate(673.60,743.14) scale(1.0000,1.0300)"><text x="0" y="0" font-family="Liberation Sans, sans-serif" font-size="33" font-weight="normal" fill="#262626" style="white-space:pre">N</text></g>
<g class="t" transform="translate(724.08,743.14) scale(1.0000,1.0300)"><text x="0" y="0" font-family="Liberation Sans, sans-serif" font-size="33" font-weight="normal" fill="#262626" style="white-space:pre">E</text></g>
<g class="t" transform="translate(267.33,776.10) scale(1.0165,1.0290)"><text x="0" y="0" font-family="Liberation Sans, sans-serif" font-size="33" font-weight="normal" fill="#262626" style="white-space:pre">Time (ms)</text></g>
<g class="t" transform="translate(612.88,777.60) scale(1.0027,1.0042)"><text x="0" y="0" font-family="Liberation Sans, sans-serif" font-size="33" font-weight="normal" fill="#262626" style="white-space:pre">Wrist Pert</text></g>
<g class="t" transform="translate(221.51,78.00) scale(1.0093,0.9950)"><text x="0" y="0" font-family="Liberation Sans, sans-serif" font-size="27" font-weight="normal" fill="#262626" style="white-space:pre">Wrist Flexion</text></g>
<g class="t" transform="translate(221.51,115.40) scale(1.0132,0.9750)"><text x="0" y="0" font-family="Liberation Sans, sans-serif" font-size="27" font-weight="normal" fill="#262626" style="white-space:pre">Wrist Neutral</text></g>
<g class="t" transform="translate(221.50,157.50) scale(1.0380,0.9910)"><text x="0" y="0" font-family="Liberation Sans, sans-serif" font-size="27" font-weight="normal" fill="#262626" style="white-space:pre">Wrist Extension</text></g>
<g class="t" transform="translate(133.03,45.80) scale(0.9315,1.0238)"><text x="0" y="0" font-family="Liberation Sans, sans-serif" font-size="38" font-weight="bold" fill="#111" style="white-space:pre">a</text></g>
<g class="t" transform="translate(729.83,45.60) scale(1.0756,1.0357)"><text x="0" y="0" font-family="Liberation Sans, sans-serif" font-size="38" font-weight="bold" fill="#111" style="white-space:pre">b</text></g>
<g class="t" transform="translate(33.39,558.91) rotate(-90) scale(0.9548,0.9889)"><text x="0" y="0" font-family="Liberation Sans, sans-serif" font-size="38" font-weight="normal" fill="#262626" style="white-space:pre">Biceps EMG Activity (AU)</text></g>
<g class="t" transform="translate(856.63,139.76) rotate(90) scale(0.9645,0.9917)"><text x="0" y="0" font-family="Liberation Sans, sans-serif" font-size="38" font-weight="normal" fill="#262626" style="white-space:pre">Biceps Spinal Reflex  (AU)</text></g>
</svg>
</body></html>
